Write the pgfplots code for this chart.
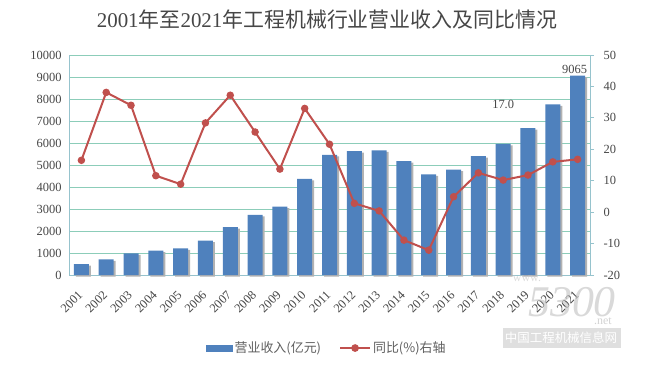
\documentclass[border=0pt]{standalone}
\usepackage{pgfplots}
\pgfplotsset{compat=1.18}
\usepackage{fontspec}
\setmainfont{Liberation Serif}
\newfontfamily\cjk{Noto Sans CJK SC}
\definecolor{barblue}{RGB}{79,129,189}
\definecolor{linered}{RGB}{192,80,77}
\definecolor{gridc}{RGB}{140,205,185}
\definecolor{axisc}{RGB}{150,195,205}
\definecolor{txt}{RGB}{70,70,70}
\definecolor{legtxt}{RGB}{95,95,95}
\begin{document}
\begin{tikzpicture}[x=1bp,y=1bp]
\path[use as bounding box] (0,0) rectangle (650,366);
\node[text=txt, inner sep=0] at (327,346) {\fontsize{21}{21}\selectfont 2001{\cjk 年至}2021{\cjk 年工程机械行业营业收入及同比情况}};
\begin{axis}[
  at={(69bp,91bp)}, anchor=south west, scale only axis,
  width=521bp, height=220bp,
  xmin=-0.5, xmax=20.5, ymin=0, ymax=10000,
  axis x line*=bottom, axis y line*=left,
  axis line style={axisc, line width=0.8bp},
  ytick={0,1000,...,10000},
  ymajorgrids, grid style={gridc, line width=0.9bp},
  xtick={0,...,20},
  xticklabels={2001,2002,2003,2004,2005,2006,2007,2008,2009,2010,2011,2012,2013,2014,2015,2016,2017,2018,2019,2020,2021},
  x tick label style={xshift=-4bp, yshift=-9bp, rotate=45, anchor=north east, inner sep=1bp},
  tick style={draw=none},
  scaled y ticks=false,
  /pgf/number format/1000 sep={},
  /pgf/number format/assume math mode=true,
  tick label style={font=\fontsize{12.5}{12.5}\selectfont, text=txt},
  y tick label style={xshift=-4bp},
  ybar, bar width=15bp,
  clip=false,
]
\addplot[fill=barblue, draw=none, preaction={fill=black!30, transform canvas={xshift=2bp, yshift=-1.5bp}}] coordinates {
(0,500) (1,710) (2,985) (3,1105) (4,1210) (5,1560) (6,2180) (7,2730) (8,3105) (9,4367) (10,5465)
(11,5626) (12,5663) (13,5174) (14,4570) (15,4795) (16,5403) (17,5964) (18,6681) (19,7751) (20,9065)};
\node[above, text=txt, font=\fontsize{12.5}{12.5}\selectfont, inner sep=2bp, xshift=-3bp] at (axis cs:20,9065) {9065};
\node[text=txt, font=\fontsize{12.5}{12.5}\selectfont] at (axis cs:17,7770) {17.0};
\end{axis}
\begin{axis}[
  at={(69bp,91bp)}, anchor=south west, scale only axis,
  width=521bp, height=220bp,
  xmin=-0.5, xmax=20.5, ymin=-20, ymax=50,
  axis x line=none, axis y line*=right,
  axis line style={axisc, line width=0.8bp},
  ytick={-20,-10,...,50},
  tick align=outside, major tick length=4bp,
  ytick style={axisc, line width=0.8bp},
  /pgf/number format/assume math mode=true,
  tick label style={font=\fontsize{12.5}{12.5}\selectfont, text=txt},
  y tick label style={xshift=6bp},
  legend style={at={(0.495,-0.332)}, anchor=center, draw=none, fill=none,
    legend columns=2, font=\cjk\fontsize{13}{13}\selectfont, text=legtxt,
    /tikz/every even column/.append style={column sep=16bp}},
]
\addlegendimage{legend image code/.code={\fill[barblue] (0bp,-3bp) rectangle (26bp,3bp);}}
\addlegendentry{营业收入(亿元)}
\addplot[linered, line width=2bp, mark=*, mark size=2.7bp, mark options={fill=linered},
  legend image code/.code={\draw[linered, line width=2bp] (0bp,0bp) -- (30bp,0bp); \fill[linered] (15bp,0bp) circle (2.8bp);}] coordinates {
(0,16.5) (1,38.1) (2,34.0) (3,11.6) (4,8.9) (5,28.4) (6,37.2) (7,25.5) (8,13.7) (9,33.0) (10,21.6)
(11,2.8) (12,0.4) (13,-8.9) (14,-12.1) (15,4.9) (16,12.5) (17,10.2) (18,11.8) (19,16.0) (20,16.8)};
\addlegendentry{同比(\%)右轴}
\end{axis}
% watermark
\fill[black!18, opacity=0.7] (503,18) rectangle (621,38);
\node[text=white, inner sep=0] at (561,28.5) {\cjk\fontsize{12.5}{12.5}\selectfont 中国工程机械信息网};
\node[text=black!25, opacity=0.6, inner sep=0] at (572,64) {\fontsize{44}{44}\selectfont\itshape 5300};
\node[text=black!25, opacity=0.7, inner sep=0] at (603,45) {\fontsize{12}{12}\selectfont .net};
\node[text=black!20, opacity=0.7, inner sep=0] at (527,87) {\fontsize{12}{12}\selectfont www.};
\end{tikzpicture}
\end{document}
